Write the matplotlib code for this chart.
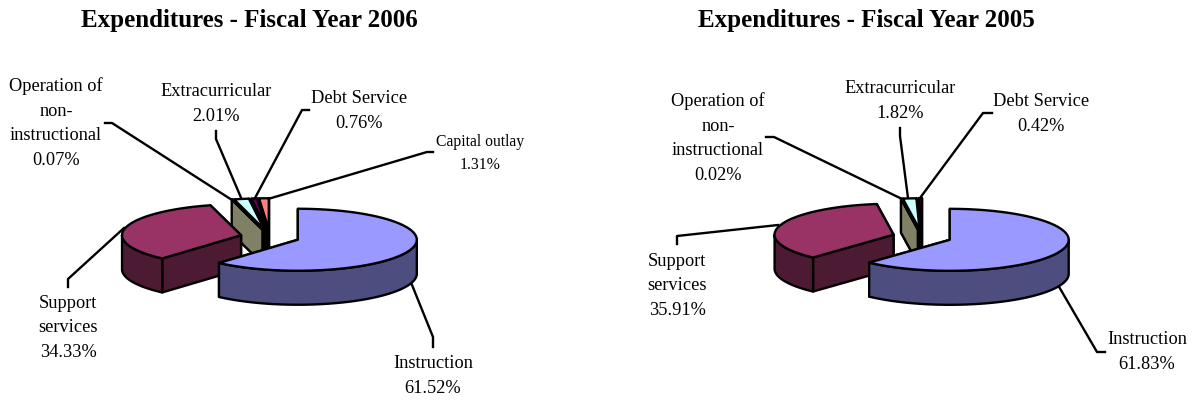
#!/usr/bin/env python3
import numpy as np
import matplotlib
matplotlib.use('Agg')
import matplotlib.pyplot as plt
from matplotlib.patches import Polygon

plt.rcParams['font.family'] = ['Liberation Serif', 'DejaVu Serif']

values_2006 = [61.52, 34.33, 0.07, 2.01, 0.76, 1.31]
values_2005 = [61.83, 35.91, 0.02, 1.82, 0.42]
names_2006 = ['Instruction', 'Support\nservices', 'Operation of\nnon-\ninstructional',
              'Extracurricular', 'Debt Service', 'Capital outlay']
names_2005 = names_2006[:5]
title_2006 = 'Expenditures - Fiscal Year 2006'
title_2005 = 'Expenditures - Fiscal Year 2005'
top_colors = ['#9999FF', '#993366', '#FFFFCC', '#CCFFFF', '#660066', '#FF8080']
side_colors = ['#4D4D80', '#4D1A33', '#808066', '#668080', '#330033', '#804040']

# pie shape, in pixels
RX, RY, DEPTH, EXPLODE = 119, 31, 34, 0.25
LW = 1.7

# label centre and leader line, in pixels
labels_2006 = [(433, 376), (68, 328), (56, 123), (216, 104), (359, 111), (480, 153.5)]
leaders_2006 = [[(433, 347), (433, 337), (408, 275)],
                [(68, 287), (68, 279), (124, 228)],
                [(105, 123), (112, 123), (232, 200)],
                [(216, 131), (216, 139), (242, 200)],
                [(309, 110), (302, 110), (255, 198)],
                [(433, 152), (427, 152), (268, 199)]]
labels_2005 = [(1147, 352), (677, 286), (718, 138), (900, 101), (1041, 114)]
leaders_2005 = [[(1105, 352), (1097, 352), (1058, 285)],
                [(677, 244), (677, 236), (778, 225)],
                [(766, 137), (774, 137), (900, 198)],
                [(900, 128), (900, 136), (908, 198)],
                [(992, 113), (983, 113), (920, 198)]]


def arc(cx, cy, a0, a1):
    t = np.radians(np.linspace(a0, a1, 80))
    return np.column_stack([cx + RX * np.sin(t), cy - RY * np.cos(t)])


def add_poly(ax, pts, color):
    ax.add_patch(Polygon(pts, closed=True, facecolor=color, edgecolor='black',
                         linewidth=LW, joinstyle='round', zorder=3))


def draw_walls(ax, cx, cy, a0, a1, side):
    # cut faces first, then the outer rim on the side facing us
    for a in (a1, a0):
        p = arc(cx, cy, a, a)[0]
        add_poly(ax, [p, (cx, cy), (cx, cy + DEPTH), (p[0], p[1] + DEPTH)], side)
    r0, r1 = max(a0, 90), min(a1, 270)
    if r1 > r0:
        rim = arc(cx, cy, r0, r1)
        add_poly(ax, np.vstack([rim, (rim + [0, DEPTH])[::-1]]), side)


def draw_top(ax, cx, cy, a0, a1, color):
    add_poly(ax, np.vstack([[(cx, cy)], arc(cx, cy, a0, a1)]), color)


def draw_pie(ax, values, names, title, title_x, center, labels, leaders):
    for line in leaders:
        xs, ys = zip(*line)
        ax.plot(xs, ys, color='black', lw=LW, solid_joinstyle='round', zorder=2)

    edges = np.concatenate([[0], np.cumsum(values)]) / np.sum(values) * 360
    wedges = []
    for a0, a1 in zip(edges[:-1], edges[1:]):
        mid = np.radians((a0 + a1) / 2)
        wedges.append((center[0] + EXPLODE * RX * np.sin(mid),
                       center[1] - EXPLODE * RY * np.cos(mid), a0, a1))

    # small slices at the back, the two big ones over them
    for i in range(len(values) - 1, 1, -1):
        draw_walls(ax, *wedges[i], side_colors[i])
    for i in range(2, len(values)):
        draw_top(ax, *wedges[i], top_colors[i])
    for i in (1, 0):
        draw_walls(ax, *wedges[i], side_colors[i])
        draw_top(ax, *wedges[i], top_colors[i])

    for name, val, (x, y) in zip(names, values, labels):
        size = 11.3 if name == 'Capital outlay' else 13.2
        ax.text(x, y, f'{name}\n{val:.2f}%', ha='center', va='center',
                fontsize=size, linespacing=1.58, color='black', zorder=4)
    ax.text(title_x, 20, title, ha='center', va='center', fontsize=18,
            fontweight='bold', color='black')


fig = plt.figure(figsize=(11.95, 4), dpi=100)
ax1 = fig.add_axes([0, 0, 0.5, 1])
ax2 = fig.add_axes([0.5, 0, 0.5, 1])
ax1.set_xlim(0, 597.5)
ax2.set_xlim(597.5, 1195)
for ax in (ax1, ax2):
    ax.set_ylim(400, 0)
    ax.axis('off')

draw_pie(ax1, values_2006, names_2006, title_2006, 249, (270, 237), labels_2006, leaders_2006)
draw_pie(ax2, values_2005, names_2005, title_2005, 866, (922, 237), labels_2005, leaders_2005)

fig.savefig('out.png', dpi=100)
